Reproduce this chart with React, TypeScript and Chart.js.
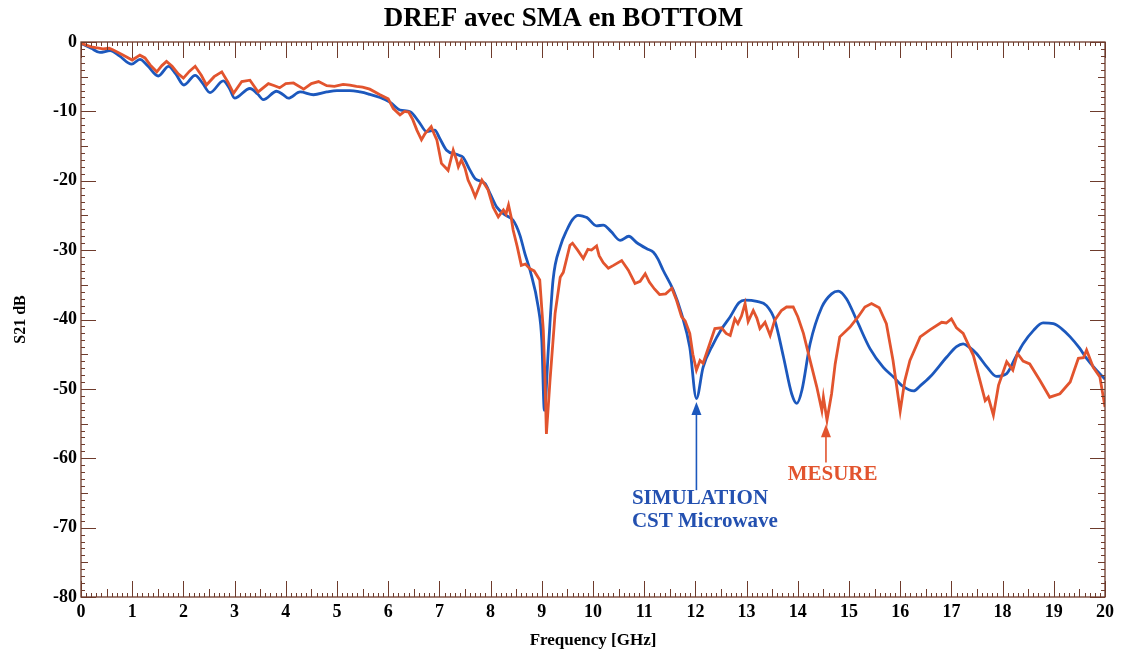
import React, { useEffect, useRef } from "react";
import { Chart, registerables } from "chart.js";

Chart.register(...registerables);

// ---- Data ----
const measFreq = [
  0.0, 0.2, 0.43, 0.55, 0.63, 0.8, 1.0, 1.15, 1.25, 1.35, 1.48, 1.58, 1.67, 1.78, 1.9, 2.0, 2.12, 2.23, 2.35, 2.45,
  2.6, 2.75, 2.87, 2.98, 3.14, 3.3, 3.46, 3.66, 3.78, 3.88, 4.0, 4.15, 4.35, 4.5, 4.64, 4.8, 4.95, 5.12, 5.25, 5.38,
  5.5, 5.64, 5.84, 6.0, 6.1, 6.23, 6.32, 6.4, 6.48, 6.56, 6.65, 6.72, 6.78, 6.84, 6.9, 6.95, 7.04, 7.17, 7.27, 7.33,
  7.37, 7.43, 7.5, 7.56, 7.63, 7.7, 7.83, 7.95, 8.05, 8.15, 8.25, 8.3, 8.35, 8.4, 8.44, 8.52, 8.6, 8.68, 8.77, 8.85,
  8.96, 9.03, 9.06, 9.09, 9.16, 9.26, 9.36, 9.42, 9.55, 9.6, 9.7, 9.81, 9.9, 9.97, 10.07, 10.12, 10.2, 10.3, 10.4, 10.56,
  10.69, 10.82, 10.92, 11.02, 11.1, 11.2, 11.3, 11.42, 11.54, 11.63, 11.73, 11.8, 11.89, 11.95, 12.02, 12.09, 12.15, 12.28, 12.38, 12.51,
  12.6, 12.68, 12.77, 12.83, 12.9, 12.97, 13.03, 13.13, 13.2, 13.26, 13.36, 13.46, 13.55, 13.68, 13.78, 13.91, 14.0, 14.11, 14.24, 14.37,
  14.47, 14.5, 14.57, 14.66, 14.73, 14.82, 15.02, 15.18, 15.31, 15.44, 15.59, 15.73, 15.86, 16.0, 16.09, 16.19, 16.39, 16.58, 16.81, 16.9,
  17.0, 17.1, 17.23, 17.43, 17.66, 17.72, 17.82, 17.92, 18.08, 18.2, 18.29, 18.4, 18.53, 18.73, 18.92, 19.12, 19.32, 19.48, 19.58, 19.64,
  19.77, 19.9, 20.0,
];
const measDb = [
  -0.2, -0.7, -1.0, -0.9, -1.15, -1.8, -2.6, -1.9, -2.3, -3.3, -4.3, -3.4, -2.8, -3.5, -4.6, -5.2, -4.2, -3.5, -4.8, -6.2,
  -5.0, -4.3, -5.8, -7.4, -5.7, -5.5, -7.2, -6.0, -6.3, -6.6, -6.0, -5.9, -6.8, -6.0, -5.7, -6.3, -6.4, -6.1, -6.2, -6.4,
  -6.5, -6.8, -7.6, -8.2, -9.6, -10.5, -10.0, -10.1, -11.2, -12.7, -14.1, -13.2, -12.7, -12.2, -13.3, -14.1, -17.5, -18.5, -15.6, -16.9,
  -18.0, -17.0, -18.2, -19.9, -21.0, -22.3, -19.9, -21.3, -23.8, -25.2, -24.2, -24.8, -23.5, -25.2, -27.1, -29.5, -32.2, -32.0, -32.7, -33.0,
  -34.3, -41.6, -48.0, -56.5, -48.8, -39.1, -33.9, -33.2, -29.3, -29.0, -30.0, -31.2, -29.9, -30.0, -29.4, -30.8, -31.8, -32.6, -32.2, -31.5,
  -32.9, -34.8, -34.5, -33.4, -34.6, -35.6, -36.4, -36.3, -35.5, -37.2, -39.6, -40.2, -42.0, -45.0, -47.3, -45.9, -46.3, -43.5, -41.3, -41.2,
  -42.0, -42.3, -39.9, -40.6, -39.5, -37.7, -40.3, -38.7, -39.8, -41.3, -40.4, -42.3, -40.1, -38.7, -38.2, -38.2, -39.6, -42.0, -45.9, -49.7,
  -53.1, -51.2, -54.5, -50.7, -46.4, -42.5, -41.1, -39.6, -38.2, -37.7, -38.3, -40.6, -45.9, -53.2, -48.8, -45.9, -42.5, -41.5, -40.4, -40.5,
  -39.9, -41.2, -42.0, -45.2, -51.7, -51.2, -53.8, -49.5, -46.1, -47.3, -44.9, -46.0, -46.4, -48.8, -51.2, -50.7, -49.0, -45.6, -45.5, -44.4,
  -46.9, -48.3, -52.6,
];

const simFreq = [
  0.0, 0.2, 0.37, 0.57, 0.75, 0.99, 1.15, 1.3, 1.51, 1.71, 1.85, 2.01, 2.23, 2.37, 2.52, 2.78, 2.9, 3.0, 3.3, 3.45,
  3.56, 3.82, 3.95, 4.05, 4.28, 4.54, 4.8, 5.0, 5.25, 5.45, 5.62, 5.84, 6.04, 6.23, 6.43, 6.6, 6.75, 6.91, 7.0, 7.14,
  7.37, 7.46, 7.6, 7.7, 7.89, 8.0, 8.12, 8.3, 8.44, 8.57, 8.67, 8.77, 8.93, 9.0, 9.05, 9.13, 9.22, 9.36, 9.49, 9.6,
  9.71, 9.8, 9.88, 10.07, 10.2, 10.35, 10.53, 10.7, 10.85, 11.05, 11.18, 11.27, 11.37, 11.57, 11.73, 11.89, 12.02, 12.15, 12.35, 12.5,
  12.68, 12.85, 12.97, 13.2, 13.39, 13.55, 13.72, 13.88, 13.98, 14.08, 14.24, 14.47, 14.66, 14.79, 14.95, 15.15, 15.41, 15.67, 15.87, 16.05,
  16.26, 16.4, 16.58, 16.91, 17.1, 17.23, 17.35, 17.49, 17.7, 17.88, 18.08, 18.25, 18.4, 18.6, 18.79, 18.99, 19.15, 19.32, 19.5, 19.64,
  19.82, 20.0,
];
const simDb = [
  -0.2, -0.9, -1.5, -1.25, -2.0, -3.2, -2.5, -3.4, -4.9, -3.5, -4.6, -6.2, -4.8, -5.9, -7.3, -5.6, -6.7, -8.1, -6.7, -7.5,
  -8.3, -7.1, -7.6, -8.1, -7.2, -7.6, -7.2, -7.0, -7.0, -7.2, -7.5, -8.0, -8.7, -9.8, -10.05, -11.5, -12.9, -12.7, -13.8, -15.6,
  -16.3, -16.6, -18.5, -19.7, -20.4, -22.0, -23.8, -25.0, -25.7, -27.8, -30.5, -32.9, -38.2, -43.0, -53.1, -44.0, -34.3, -29.5, -27.1, -25.6,
  -25.0, -25.1, -25.3, -26.5, -26.4, -27.3, -28.6, -28.0, -28.9, -29.8, -30.3, -31.3, -32.9, -35.8, -39.2, -44.0, -51.4, -46.9, -43.5, -41.5,
  -39.6, -37.6, -37.2, -37.4, -38.0, -40.1, -45.4, -50.7, -52.1, -50.2, -43.5, -38.2, -36.3, -35.9, -37.0, -40.1, -44.2, -46.9, -48.3, -49.6,
  -50.3, -49.5, -48.3, -45.4, -43.9, -43.5, -44.0, -44.9, -46.9, -48.2, -47.8, -45.5, -43.5, -41.6, -40.5, -40.6, -41.3, -42.5, -44.1, -45.6,
  -47.2, -48.6,
];

const xTickMin = 0;
const xTickMax = 20;
const yTickMin = -80;
const yTickMax = 0;

const TITLE = "DREF avec SMA en BOTTOM";
const X_LABEL = "Frequency [GHz]";
const Y_LABEL = "S21 dB";

const RED = "#e2542e";
const BLUE = "#1c58bd";
const TICK = "#6e3b2c";
const SERIF = '"Liberation Serif", "Times New Roman", serif';

const framePlugin = {
  id: "frameTicks",
  afterDatasetsDraw(chart: any) {
    const { ctx, chartArea, scales } = chart;
    const { left, right, top, bottom } = chartArea;
    const xs = scales.x;
    const ys = scales.y;
    ctx.save();
    ctx.strokeStyle = TICK;
    ctx.lineWidth = 1.3;
    ctx.strokeRect(left, top, right - left, bottom - top);
    ctx.lineWidth = 1;
    // x ticks every 0.1 GHz
    for (let i = 0; i <= (xTickMax - xTickMin) * 10; i++) {
      const v = xTickMin + i / 10;
      const px = Math.round(xs.getPixelForValue(v)) + 0.5;
      const len = i % 10 === 0 ? 16 : i % 5 === 0 ? 8 : 4;
      ctx.beginPath();
      ctx.moveTo(px, bottom);
      ctx.lineTo(px, bottom - len);
      ctx.moveTo(px, top);
      ctx.lineTo(px, top + len);
      ctx.stroke();
    }
    // y ticks every 1 dB
    for (let v = yTickMin; v <= yTickMax; v++) {
      const py = Math.round(ys.getPixelForValue(v)) + 0.5;
      const len = v % 10 === 0 ? 15 : v % 5 === 0 ? 7 : 4;
      ctx.beginPath();
      ctx.moveTo(left, py);
      ctx.lineTo(left + len, py);
      ctx.moveTo(right, py);
      ctx.lineTo(right - len, py);
      ctx.stroke();
    }
    ctx.restore();
  },
};

function arrowUp(ctx: any, x: number, yTip: number, yTail: number, color: string) {
  ctx.save();
  ctx.strokeStyle = color;
  ctx.fillStyle = color;
  ctx.lineWidth = 1.6;
  ctx.beginPath();
  ctx.moveTo(x, yTip + 10);
  ctx.lineTo(x, yTail);
  ctx.stroke();
  ctx.beginPath();
  ctx.moveTo(x, yTip);
  ctx.lineTo(x - 5, yTip + 13);
  ctx.lineTo(x + 5, yTip + 13);
  ctx.closePath();
  ctx.fill();
  ctx.restore();
}

const annotPlugin = {
  id: "annot",
  afterDraw(chart: any) {
    const { ctx, scales } = chart;
    const xs = scales.x;
    const ys = scales.y;
    // title
    ctx.save();
    ctx.fillStyle = "#000";
    ctx.font = `bold 27px ${SERIF}`;
    ctx.textAlign = "center";
    ctx.textBaseline = "middle";
    ctx.fillText(TITLE, chart.width / 2, 19);
    ctx.restore();

    // simulation arrow + label
    const bx = xs.getPixelForValue(12.02);
    arrowUp(ctx, bx, ys.getPixelForValue(-51.9), ys.getPixelForValue(-64.6), BLUE);
    ctx.save();
    ctx.fillStyle = "#2350b0";
    ctx.font = `bold 21px ${SERIF}`;
    ctx.textAlign = "left";
    ctx.textBaseline = "middle";
    const tx = xs.getPixelForValue(10.76);
    ctx.fillText("SIMULATION", tx, ys.getPixelForValue(-65.8));
    ctx.fillText("CST Microwave", tx, ys.getPixelForValue(-69.2));
    ctx.restore();

    // measure arrow + label
    const rx = xs.getPixelForValue(14.55);
    arrowUp(ctx, rx, ys.getPixelForValue(-55.1), ys.getPixelForValue(-60.6), RED);
    ctx.save();
    ctx.fillStyle = RED;
    ctx.font = `bold 21px ${SERIF}`;
    ctx.textAlign = "center";
    ctx.textBaseline = "middle";
    ctx.fillText("MESURE", xs.getPixelForValue(14.68), ys.getPixelForValue(-62.4));
    ctx.restore();
  },
};

export default function App() {
  const ref = useRef<HTMLCanvasElement | null>(null);

  useEffect(() => {
    document.body.style.margin = "0";
    const canvas = ref.current;
    if (!canvas) return;
    const meas = measFreq.map((f, i) => ({ x: f, y: measDb[i] }));
    const sim = simFreq.map((f, i) => ({ x: f, y: simDb[i] }));
    const tickFont = { family: SERIF, weight: "bold" as const, size: 18 };
    const chart = new Chart(canvas, {
      type: "line",
      data: {
        datasets: [
          {
            label: "MESURE",
            data: meas,
            borderColor: RED,
            borderWidth: 2.8,
            pointRadius: 0,
            tension: 0,
          },
          {
            label: "SIMULATION",
            data: sim,
            borderColor: BLUE,
            borderWidth: 2.8,
            pointRadius: 0,
            cubicInterpolationMode: "monotone",
          },
        ],
      },
      options: {
        responsive: false,
        animation: false,
        layout: { padding: { top: 42, right: 22, left: 0, bottom: 0 } },
        plugins: {
          legend: { display: false },
          title: { display: false },
          tooltip: { enabled: false },
        },
        scales: {
          x: {
            type: "linear",
            min: xTickMin,
            max: xTickMax,
            grid: { display: false, drawTicks: false },
            border: { display: false },
            ticks: {
              stepSize: 1,
              autoSkip: false,
              maxRotation: 0,
              color: "#000",
              font: tickFont,
              padding: 5,
            },
            title: {
              display: true,
              text: X_LABEL,
              color: "#000",
              font: { family: SERIF, weight: "bold", size: 17 },
              padding: { top: 0, bottom: 6 },
            },
            afterFit: (s: any) => {
              s.height = 60;
            },
          },
          y: {
            type: "linear",
            min: yTickMin,
            max: yTickMax,
            grid: { display: false, drawTicks: false },
            border: { display: false },
            ticks: {
              stepSize: 10,
              color: "#000",
              font: tickFont,
              padding: 4,
            },
            title: {
              display: true,
              text: Y_LABEL,
              color: "#000",
              font: { family: SERIF, weight: "bold", size: 16 },
              padding: { top: 11, bottom: 0 },
            },
            afterFit: (s: any) => {
              s.width = 81;
            },
          },
        },
      },
      plugins: [framePlugin, annotPlugin],
    });
    return () => chart.destroy();
  }, []);

  return (
    <div style={{ width: 1127, height: 657, background: "#fff" }}>
      <canvas ref={ref} width={1127} height={657} style={{ display: "block" }} />
    </div>
  );
}
